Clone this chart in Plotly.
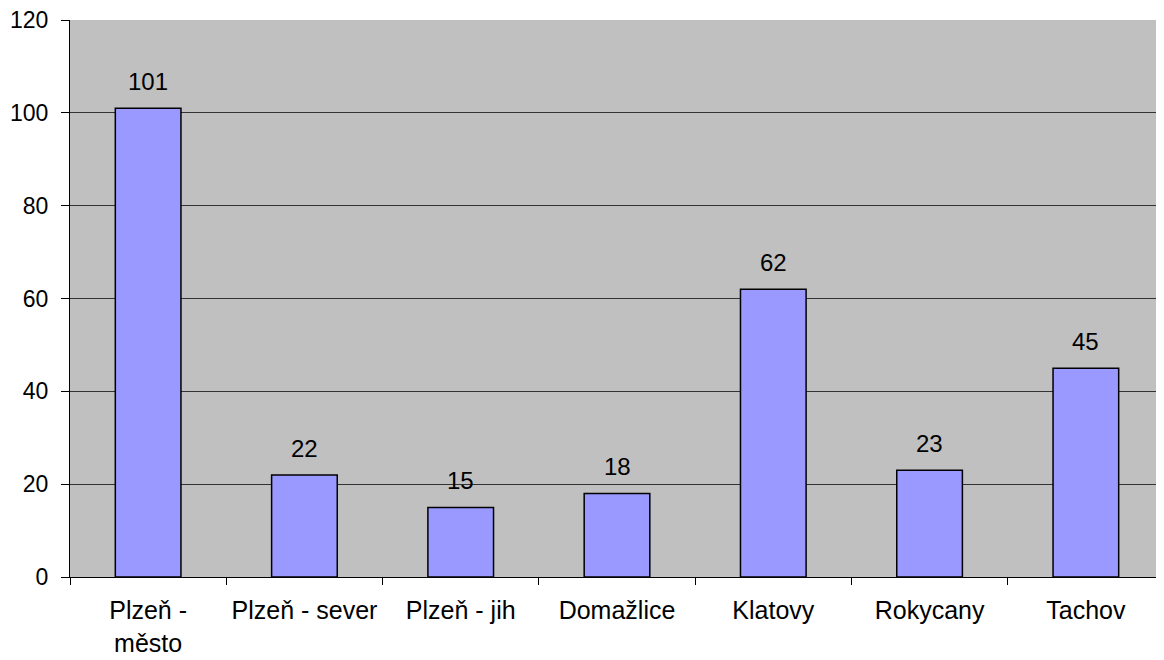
import plotly.graph_objects as go

categories = ["Plzeň -<br>město", "Plzeň - sever", "Plzeň - jih", "Domažlice", "Klatovy", "Rokycany", "Tachov"]
values = [101, 22, 15, 18, 62, 23, 45]
y_ticks = [0, 20, 40, 60, 80, 100, 120]

fig = go.Figure()
fig.add_trace(go.Bar(
    x=categories, y=values,
    marker=dict(color="#9999FF", line=dict(color="black", width=1.5)),
    width=0.42,
))
for c, v in zip(categories, values):
    fig.add_annotation(x=c, y=v, text=str(v), showarrow=False, yanchor="bottom",
                       yshift=11, font=dict(size=24, color="black"))

# The page body has an 8px margin, so the figure is sized to fit inside it.
fig.update_layout(
    width=1156, height=652,
    margin=dict(l=62, r=0, t=12, b=83),
    paper_bgcolor="white", plot_bgcolor="#C0C0C0",
    font=dict(family="Liberation Sans, Arial, sans-serif", size=24, color="black"),
    showlegend=False,
    bargap=0.58,
)
fig.update_xaxes(type="category", tickson="boundaries", ticks="outside", ticklen=7,
                 tickcolor="black", showline=True, linecolor="black", linewidth=1,
                 showgrid=False, tickfont=dict(size=25), automargin=False,
                 ticklabelstandoff=11, ticklabeloverflow="allow")
fig.update_yaxes(range=[0, 120], tickvals=y_ticks, ticks="outside", ticklen=8,
                 tickcolor="black", showline=True, linecolor="black", linewidth=1,
                 showgrid=True, gridcolor="#333333", gridwidth=1, zeroline=False,
                 tickfont=dict(size=23), automargin=False, ticklabelstandoff=8,
                 ticklabeloverflow="allow")
fig.write_html("out.html")
